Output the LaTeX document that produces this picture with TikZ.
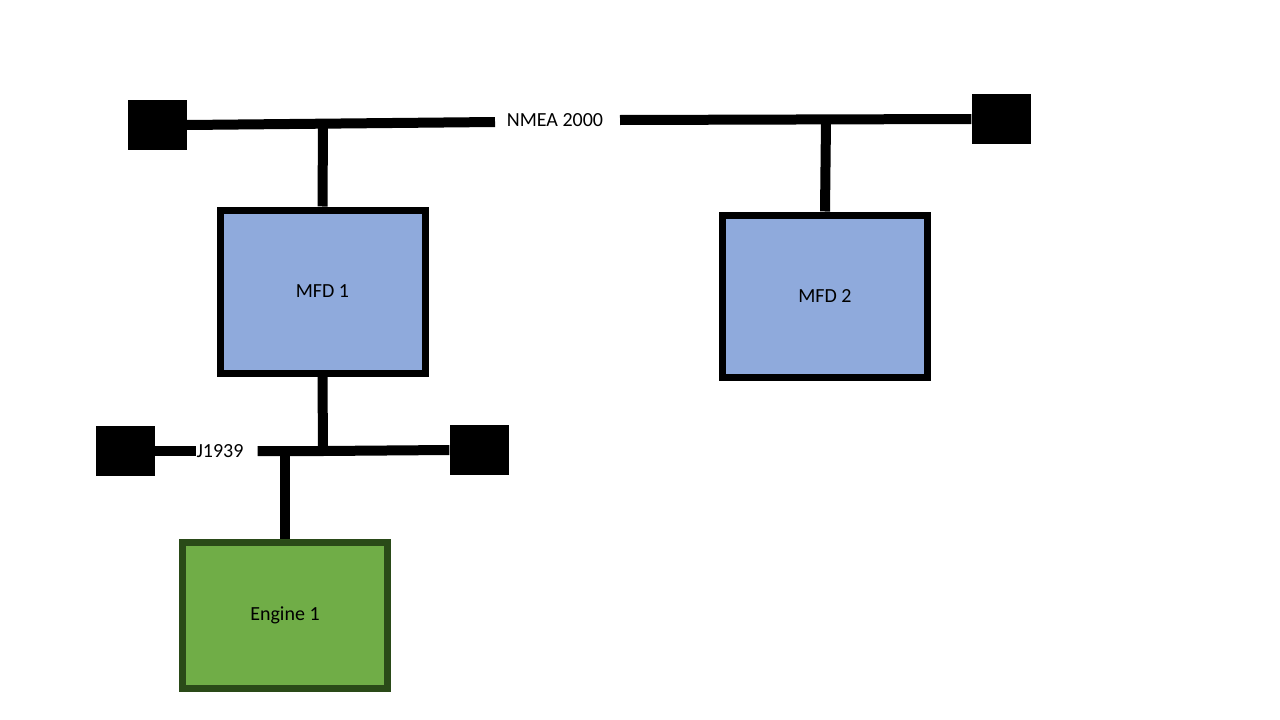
\documentclass[tikz,border=0pt]{standalone}
\usepackage{fontspec}
\setmainfont{Carlito}
\usetikzlibrary{positioning}
\definecolor{mfdblue}{HTML}{8FAADC}
\definecolor{enggreen}{HTML}{70AD47}
\definecolor{engdark}{HTML}{2A4A18}
\tikzset{
  term/.style={fill=black, minimum width=59pt, minimum height=50pt, inner sep=0pt},
  device/.style={draw=black, line width=7pt, fill=mfdblue, minimum width=205pt, minimum height=163pt, inner sep=0pt, font=\fontsize{20}{24}\selectfont},
  bus/.style={line width=10pt},
  buslabel/.style={inner sep=0pt, font=\fontsize{20}{24}\selectfont}
}
\begin{document}
\begin{tikzpicture}[x=1pt,y=-1pt]
    \useasboundingbox (0,0) rectangle (1280,720);

    % Terminators
    \node[term] (tnl) at (157,125) {};
    \node[term] (tnr) at (1001,119) {};
    \node[term] (tjl) at (125,451) {};
    \node[term] (tjr) at (479,450) {};

    % Devices
    \node[device] (mfda) at (322.5,291.5) {MFD 1};
    \node[device, minimum width=205pt, minimum height=162pt] (mfdb) at (825,296) {MFD 2};
    \node[device, draw=engdark, fill=enggreen, minimum height=146pt] (eng) at (285,615) {Engine 1};

    % Bus labels
    \node[buslabel] (nmea) at (555,120) {NMEA 2000};
    \node[buslabel] (jbus) at (220,451) {J1939};

    % Junctions
    \coordinate (na) at (323,123);
    \coordinate (nb) at (826,121);
    \coordinate (ja) at (323,451);
    \coordinate (jb) at (285,452);

    % NMEA 2000 backbone
    \draw[bus] (tnl.east) -- (495,122);
    \draw[bus] (620,120) -- (tnr.west);
    \draw[bus] (na) -- (mfda.north);
    \draw[bus] (nb) -- (mfdb.north);

    % J1939 backbone
    \draw[bus] (tjl.east) -- (jbus.west);
    \draw[bus] (jbus.east) ++(14,0) -- (ja) -- (tjr.west);
    \draw[bus] (mfda.south) -- (ja);
    \draw[bus] (jb) -- (eng.north);
\end{tikzpicture}
\end{document}
